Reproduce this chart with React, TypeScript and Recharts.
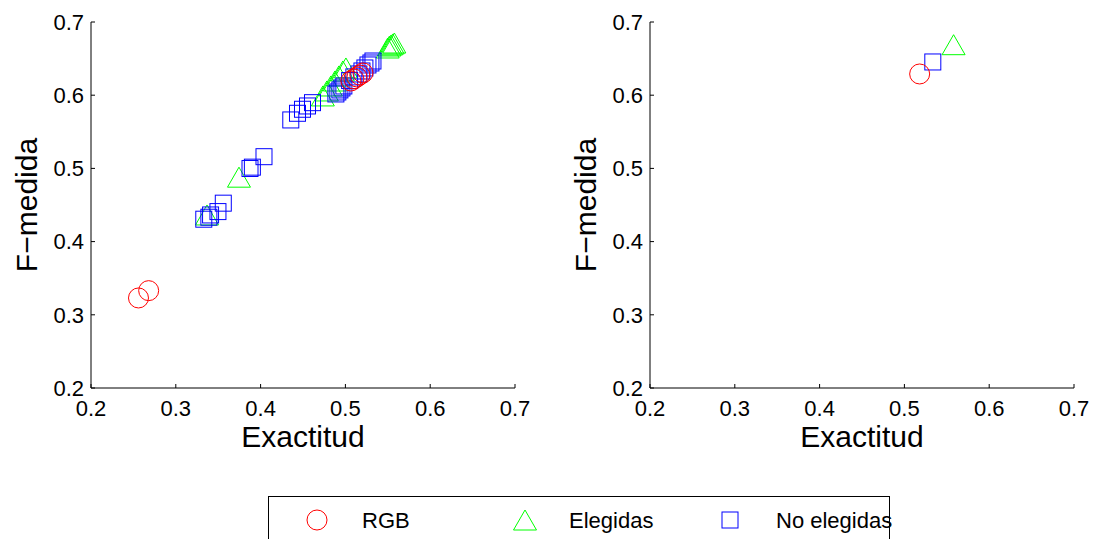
import React from 'react';
import { ScatterChart, Scatter, XAxis, YAxis } from 'recharts';

const ticks = [0.2, 0.3, 0.4, 0.5, 0.6, 0.7];

const rgbLeft = [
  { x: 0.256, y: 0.323 }, { x: 0.268, y: 0.333 },
  { x: 0.5065, y: 0.6194 }, { x: 0.51, y: 0.6222 }, { x: 0.5136, y: 0.6249 },
  { x: 0.517, y: 0.6276 }, { x: 0.5207, y: 0.6304 },
];
const elegidasLeft = [
  { x: 0.3368, y: 0.4364 }, { x: 0.3745, y: 0.488 },
  { x: 0.4734, y: 0.599 }, { x: 0.4781, y: 0.6058 }, { x: 0.4828, y: 0.6126 },
  { x: 0.4876, y: 0.6194 }, { x: 0.4923, y: 0.6263 }, { x: 0.497, y: 0.6331 }, { x: 0.5006, y: 0.6372 },
  { x: 0.5499, y: 0.6645 }, { x: 0.552, y: 0.6672 }, { x: 0.5538, y: 0.6686 },
  { x: 0.5558, y: 0.67 }, { x: 0.5577, y: 0.6713 },
];
const noElegidasLeft = [
  { x: 0.333, y: 0.4306 }, { x: 0.339, y: 0.4333 }, { x: 0.341, y: 0.4364 }, { x: 0.3497, y: 0.441 },
  { x: 0.356, y: 0.4525 }, { x: 0.3875, y: 0.4999 }, { x: 0.3903, y: 0.5017 }, { x: 0.404, y: 0.516 },
  { x: 0.4356, y: 0.5662 }, { x: 0.4435, y: 0.5753 }, { x: 0.4494, y: 0.5808 }, { x: 0.4553, y: 0.5853 },
  { x: 0.4612, y: 0.5898 },
  { x: 0.4888, y: 0.6017 }, { x: 0.4911, y: 0.6044 }, { x: 0.4935, y: 0.6072 }, { x: 0.4959, y: 0.6099 },
  { x: 0.4982, y: 0.6126 },
  { x: 0.505, y: 0.62 }, { x: 0.51, y: 0.625 },
  { x: 0.5159, y: 0.629 }, { x: 0.5195, y: 0.6331 }, { x: 0.523, y: 0.6372 }, { x: 0.5266, y: 0.6413 },
  { x: 0.5301, y: 0.644 }, { x: 0.5325, y: 0.6467 },
];

const rgbRight = [{ x: 0.518, y: 0.629 }];
const elegidasRight = [{ x: 0.558, y: 0.669 }];
const noElegidasRight = [{ x: 0.5335, y: 0.6454 }];

const legendLabels = ['RGB', 'Elegidas', 'No elegidas'];

const FONT = '"Liberation Sans", Arial, Helvetica, sans-serif';
const RED = '#ff0000';
const GREEN = '#00ff00';
const BLUE = '#0000ff';

const CircleShape = (p: any) => (
  <circle cx={p.cx} cy={p.cy} r={10} fill="none" stroke={RED} strokeWidth={1} />
);
const TriangleShape = (p: any) => (
  <polygon
    points={`${p.cx},${p.cy - 10} ${p.cx - 11.5},${p.cy + 10} ${p.cx + 11.5},${p.cy + 10}`}
    fill="none"
    stroke={GREEN}
    strokeWidth={1}
  />
);
const SquareShape = (p: any) => (
  <rect x={p.cx - 8} y={p.cy - 8} width={16} height={16} fill="none" stroke={BLUE} strokeWidth={1} />
);

const tickStyle = { fill: '#000', fontSize: 22, fontFamily: FONT };

const XTitle = (props: any) => {
  const vb = props.viewBox;
  return (
    <text x={vb.x + vb.width / 2} y={447} textAnchor="middle" fill="#000" fontSize={30} fontFamily={FONT}>
      Exactitud
    </text>
  );
};
const YTitle = (props: any) => (
  <text
    x={37}
    y={205}
    transform="rotate(-90, 37, 205)"
    textAnchor="middle"
    fill="#000"
    fontSize={30}
    fontFamily={FONT}
  >
    F−medida
  </text>
);

function Panel({ rgb, eleg, noEleg, width, right }: any) {
  return (
    <ScatterChart width={width} height={470} margin={{ top: 22, right, left: 0, bottom: 0 }}>
      <XAxis
        type="number"
        dataKey="x"
        domain={[0.2, 0.7]}
        ticks={ticks}
        interval={0}
        tickFormatter={(v: number) => v.toFixed(1)}
        height={82}
        tickSize={-4}
        tickMargin={16}
        tick={tickStyle}
        axisLine={{ stroke: '#000' }}
        tickLine={{ stroke: '#000' }}
        allowDataOverflow
        label={{ content: XTitle }}
      />
      <YAxis
        type="number"
        dataKey="y"
        domain={[0.2, 0.7]}
        ticks={ticks}
        interval={0}
        tickFormatter={(v: number) => v.toFixed(1)}
        width={91}
        tickSize={-4}
        tickMargin={11}
        tick={tickStyle}
        axisLine={{ stroke: '#000' }}
        tickLine={{ stroke: '#000' }}
        allowDataOverflow
        label={{ content: YTitle }}
      />
      <Scatter data={eleg} shape={TriangleShape} isAnimationActive={false} />
      <Scatter data={noEleg} shape={SquareShape} isAnimationActive={false} />
      <Scatter data={rgb} shape={CircleShape} isAnimationActive={false} />
    </ScatterChart>
  );
}

function LegendBox() {
  return (
    <svg width={1094} height={50} style={{ position: 'absolute', left: 0, top: 490 }}>
      <rect x={268.5} y={6.5} width={621} height={60} fill="#fff" stroke="#000" strokeWidth={1} />
      <circle cx={317} cy={30} r={10} fill="none" stroke={RED} strokeWidth={1} />
      <text x={362} y={38} fontSize={22} fontFamily={FONT} fill="#000">{legendLabels[0]}</text>
      <polygon points="525,20 513.5,40 536.5,40" fill="none" stroke={GREEN} strokeWidth={1} />
      <text x={569} y={38} fontSize={22} fontFamily={FONT} fill="#000">{legendLabels[1]}</text>
      <rect x={722} y={22} width={16} height={16} fill="none" stroke={BLUE} strokeWidth={1} />
      <text x={776} y={38} fontSize={22} fontFamily={FONT} fill="#000">{legendLabels[2]}</text>
    </svg>
  );
}

export default function App() {
  return (
    <div style={{ position: 'absolute', left: 0, top: 0, width: 1094, height: 539, background: '#fff', overflow: 'hidden' }}>
      <div style={{ position: 'absolute', left: 0, top: 0 }}>
        <Panel rgb={rgbLeft} eleg={elegidasLeft} noEleg={noElegidasLeft} width={540} right={25} />
      </div>
      <div style={{ position: 'absolute', left: 559, top: 0 }}>
        <Panel rgb={rgbRight} eleg={elegidasRight} noEleg={noElegidasRight} width={535} right={20} />
      </div>
      <LegendBox />
    </div>
  );
}
